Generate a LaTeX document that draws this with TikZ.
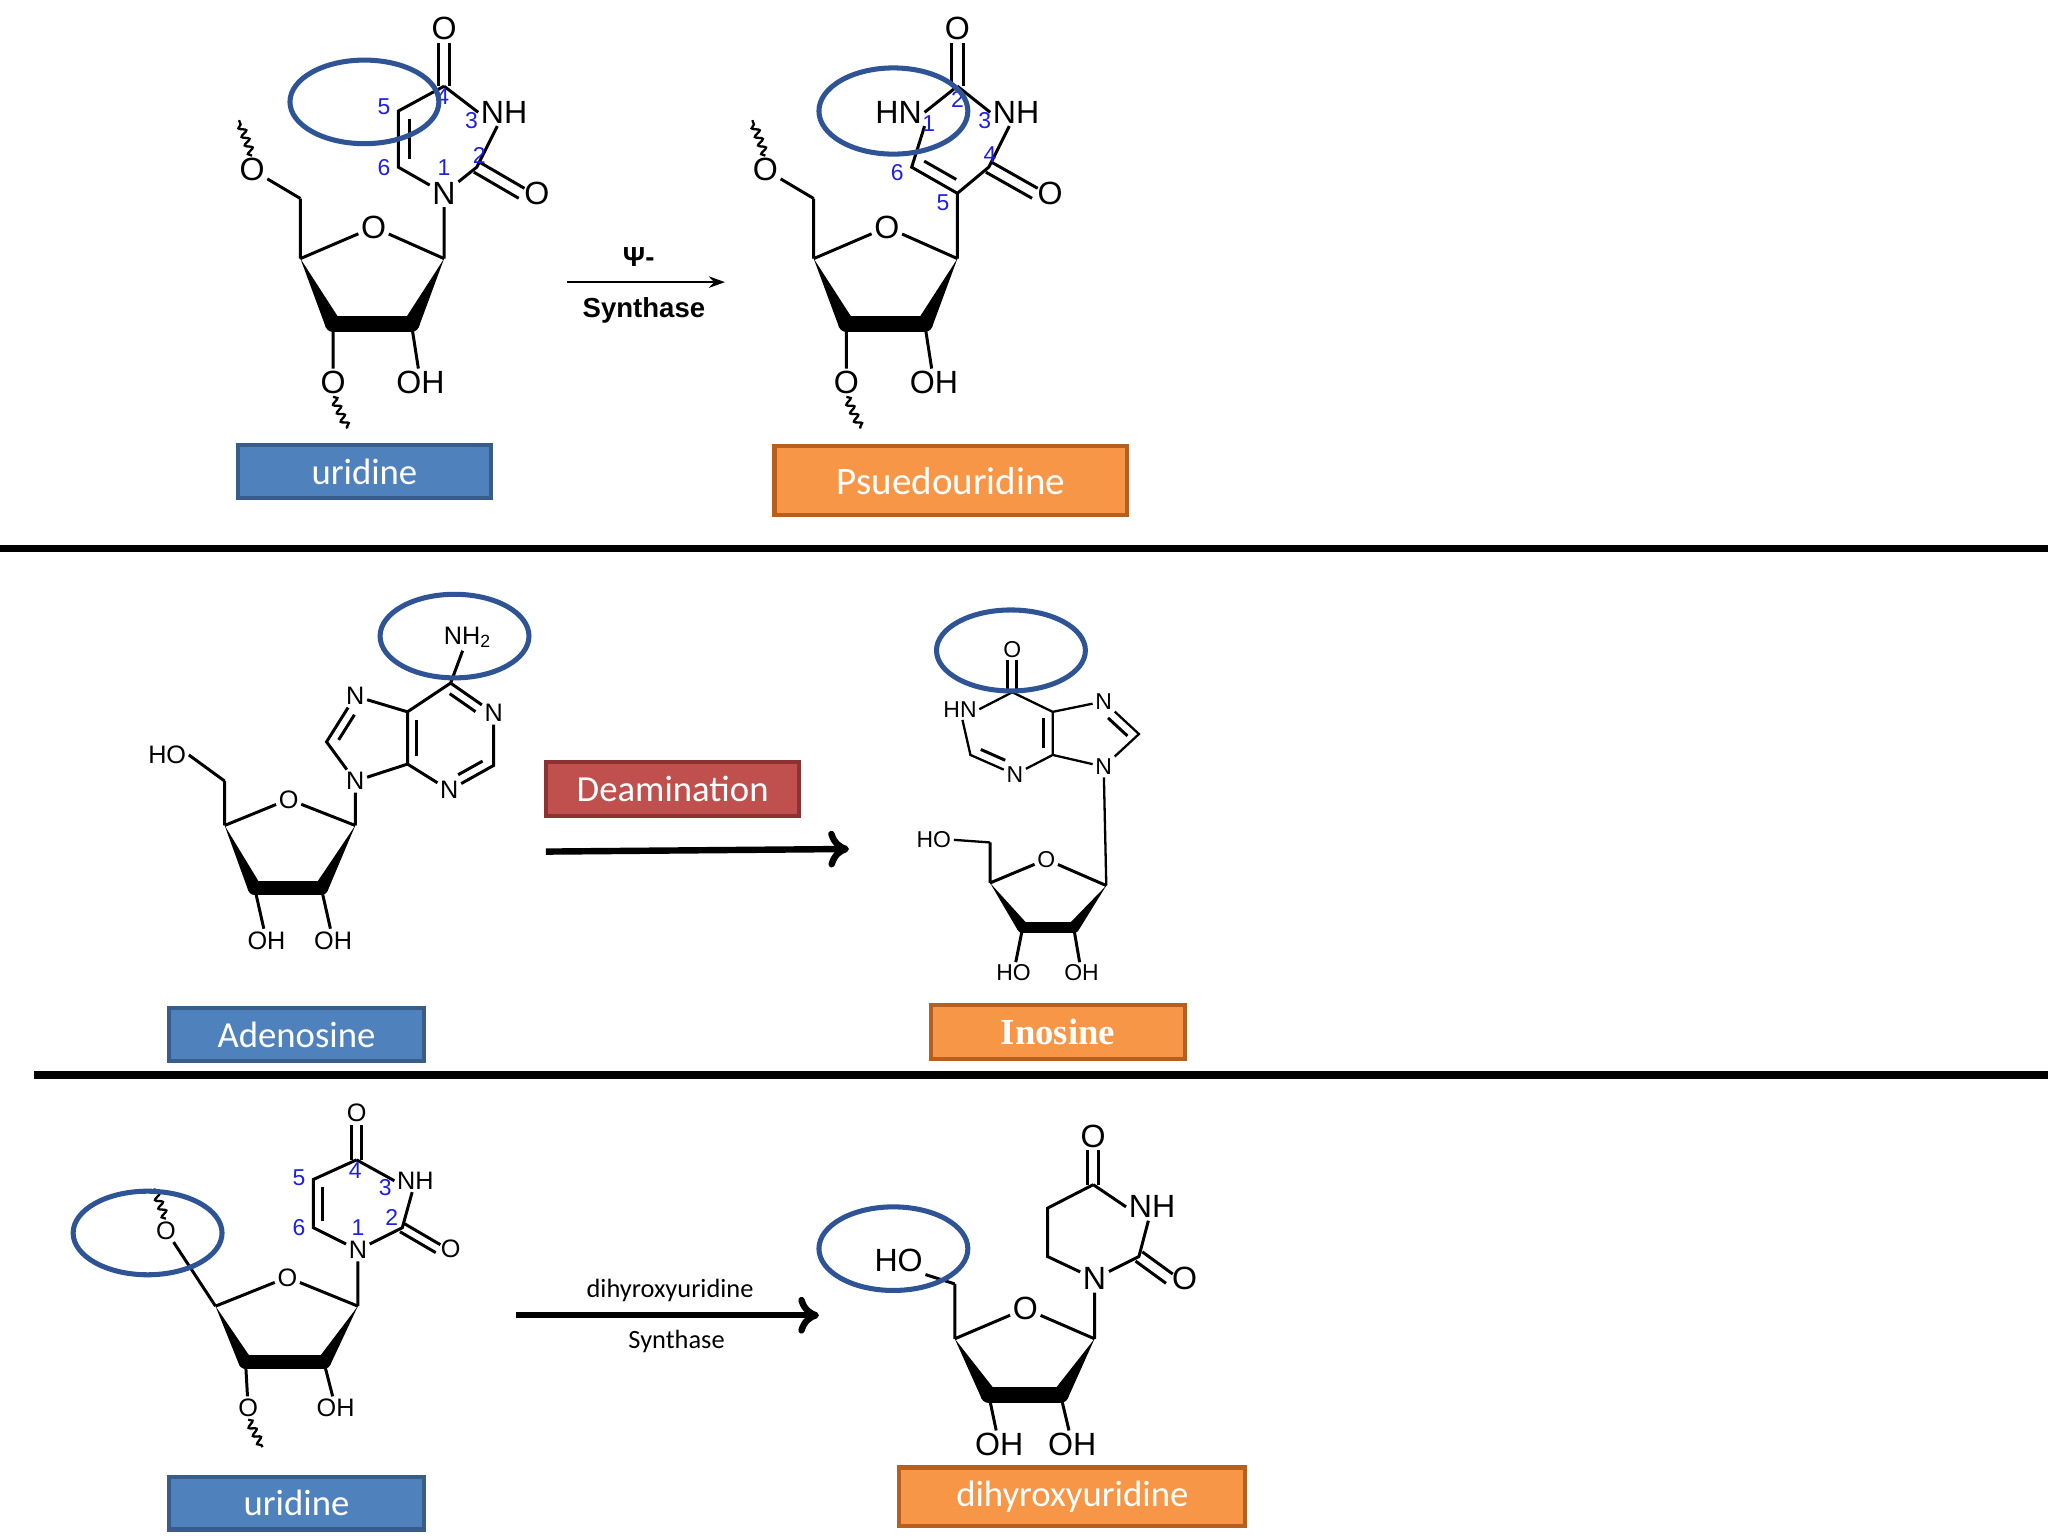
\documentclass[tikz,border=0pt]{standalone}
\usepackage{fontspec}
\setmainfont{Liberation Sans}
\newfontfamily\calfont{Carlito}
\newfontfamily\tmsfont{Liberation Serif}
\usetikzlibrary{calc,decorations.pathmorphing,arrows.meta}
\definecolor{ell}{RGB}{47,84,150}
\definecolor{bfill}{RGB}{79,129,189}
\definecolor{bdraw}{RGB}{56,93,138}
\definecolor{ofill}{RGB}{247,150,70}
\definecolor{odraw}{RGB}{182,95,30}
\definecolor{rfill}{RGB}{192,80,77}
\definecolor{rdraw}{RGB}{140,50,50}
\definecolor{num}{RGB}{30,30,230}
\tikzset{
 bond/.style={line width=1.3pt},
 atm/.style={inner sep=1pt,font=\fontsize{14}{14}\selectfont},
 sat/.style={inner sep=1pt,font=\fontsize{11}{11}\selectfont},
 nm/.style={text=num,inner sep=0pt,font=\fontsize{10}{10}\selectfont},
 ov/.style={draw=ell,line width=2.2pt},
 wavy/.style={line width=1pt,decorate,decoration={snake,amplitude=1.5pt,segment length=4pt}},
 lbl/.style={inner sep=0pt,text=white,font=\calfont\fontsize{16}{16}\selectfont,line width=1.8pt},
 blue box/.style={lbl,fill=bfill,draw=bdraw},
 orange box/.style={lbl,fill=ofill,draw=odraw},
 sep/.style={line width=3.2pt},
 bigarrow/.style={line width=2.8pt,-{To[length=9pt,width=16pt,line width=2.8pt]}}
}
\newcommand\dl[5]{\draw[bond] ($(#1)!#3!(#2)!#5!90:(#2)$) -- ($(#2)!#4!(#1)!#5!-90:(#1)$);}
\newcommand\wdg[3]{\fill ($(#1)$) -- ($(#2)!#3!90:(#1)$) -- ($(#2)!#3!-90:(#1)$) -- cycle;}
\newcommand\sugarbonds[2]{%
 \draw[bond] (#1C1)--(#1O4)--(#1C4) (#1C4)--(#1C5) (#1C2)--(#1b2) (#1C3)--(#1b3);
 \wdg{#1C4}{#1C3}{#2}\wdg{#1C1}{#1C2}{#2}
 \draw[line width=2*#2,line cap=round] (#1C3)--(#1C2);}
\begin{document}
\begin{tikzpicture}[x=0.02cm,y=-0.02cm]
\fill[white] (0,0) rectangle (1568,1176);
\useasboundingbox (0,0) rectangle (1568,1176);

%% ===== Panel 1: uridine =====
\node[atm] (uO4x) at (340,22) {O};
\coordinate (uR4) at (340,66);
\node[atm] (uN3) at (386,86) {NH};
\coordinate (uR2) at (365,128);
\node[atm] (uO2x) at (411,148) {O};
\node[atm] (uN1) at (340,148) {N};
\coordinate (uR6) at (305,128);
\coordinate (uR5) at (305,85);
\draw[bond] (uR4)--(uN3.west) (uN3)--(uR2)--(uN1)--(uR6)--(uR5)--(uR4);
\dl{uR5}{uR6}{0.15}{0.15}{5pt}
\dl{uR4}{uO4x.south}{0}{0}{2.5pt}\dl{uR4}{uO4x.south}{0}{0}{-2.5pt}
\dl{uR2}{uO2x.west}{0}{0}{2.5pt}\dl{uR2}{uO2x.west}{0}{0}{-2.5pt}
\coordinate (uC1) at (340,198); \node[atm] (uO4) at (286,174) {O};
\coordinate (uC4) at (230,198); \coordinate (uC3) at (255,248); \coordinate (uC2) at (315,248);
\coordinate (uC5) at (230,152); \node[atm] (uO5) at (193,130) {O};
\node[atm] (ub3) at (255,293) {O}; \node[atm] (ub2) at (322,293) {OH};
\draw[bond] (uN1)--(uC1) (uC5)--(uO5);
\sugarbonds{u}{3.5pt}
\draw[wavy] (uO5.north)--(183,92);
\draw[wavy] (ub3.south)--(266,328);
\node[nm] at (294,82) {5}; \node[nm] at (339,74) {4}; \node[nm] at (361,92) {3};
\node[nm] at (367,119) {2}; \node[nm] at (340,128) {1}; \node[nm] at (294,128) {6};
\draw[ov] (279,78) ellipse (57 and 32);
\node[blue box,minimum width=194*0.02cm,minimum height=40*0.02cm] (lb1) at (279,361) {uridine};

%% ===== Panel 1: pseudouridine =====
\node[atm] (pO2x) at (733,22) {O};
\coordinate (pR2) at (733,66);
\node[atm] (pN1) at (688,86) {HN};
\node[atm] (pN3) at (778,86) {NH};
\coordinate (pR4) at (757,128);
\node[atm] (pO4x) at (804,148) {O};
\coordinate (pR5) at (733,148);
\coordinate (pR6) at (698,128);
\draw[bond] (pR2)--(pN3.west) (pN3)--(pR4)--(pR5)--(pR6)--(pN1.south east) (pN1.east)--(pR2);
\dl{pR5}{pR6}{0.15}{0.15}{-5pt}
\dl{pR2}{pO2x.south}{0}{0}{2.5pt}\dl{pR2}{pO2x.south}{0}{0}{-2.5pt}
\dl{pR4}{pO4x.west}{0}{0}{2.5pt}\dl{pR4}{pO4x.west}{0}{0}{-2.5pt}
\coordinate (pC1) at (733,198); \node[atm] (pO4) at (679,174) {O};
\coordinate (pC4) at (623,198); \coordinate (pC3) at (648,248); \coordinate (pC2) at (708,248);
\coordinate (pC5) at (623,152); \node[atm] (pO5) at (586,130) {O};
\node[atm] (pb3) at (648,293) {O}; \node[atm] (pb2) at (715,293) {OH};
\draw[bond] (pR5)--(pC1) (pC5)--(pO5);
\sugarbonds{p}{3.5pt}
\draw[wavy] (pO5.north)--(576,92);
\draw[wavy] (pb3.south)--(659,328);
\node[nm] at (711,95) {1}; \node[nm] at (733,76) {2}; \node[nm] at (754,92) {3};
\node[nm] at (758,118) {4}; \node[nm] at (722,155) {5}; \node[nm] at (687,132) {6};
\draw[ov] (684,85) ellipse (57 and 33);
\node[orange box,font=\calfont\fontsize{17}{17}\selectfont,minimum width=270*0.02cm,minimum height=53*0.02cm] (lb2) at (728,368) {Psuedouridine};

\coordinate (a1s) at (434,216); \coordinate (a1e) at (555,216);
\draw[line width=1pt,-{Stealth[length=7pt,width=5pt]}] (a1s)--(a1e);
\node[font=\bfseries\fontsize{12}{12}\selectfont] at (489,197) {Ψ-};
\node[font=\bfseries\fontsize{12}{12}\selectfont] at (493,238) {Synthase};

\coordinate (s1a) at (0,420); \coordinate (s1b) at (1568,420);
\draw[sep] (s1a)--(s1b);

%% ===== Panel 2: adenosine =====
\node[sat] (aNH2) at (358,488) {NH\textsubscript{2}};
\coordinate (aR6) at (345,523);
\node[sat] (aN1) at (378,546) {N};
\coordinate (aR2) at (378,586);
\node[sat] (aN3) at (344,605) {N};
\coordinate (aR4) at (312,585);
\coordinate (aR5) at (312,545);
\node[sat] (aN7) at (272,533) {N};
\coordinate (aR8) at (250,568);
\node[sat] (aN9) at (272,598) {N};
\draw[bond] (aR6)--(aN1)--(aR2)--(aN3)--(aR4)--(aR5)--(aR6) (aR5)--(aN7)--(aR8)--(aN9)--(aR4) (aR6)--(aNH2);
\dl{aR6}{aN1}{0.1}{0.3}{-4pt}
\dl{aR2}{aN3}{0.15}{0.3}{-4pt}
\dl{aR4}{aR5}{0.15}{0.15}{-4pt}
\dl{aN7}{aR8}{0.3}{0.15}{4pt}
\coordinate (aC1) at (272,632); \node[sat] (aO4) at (221,612) {O};
\coordinate (aC4) at (172,632); \coordinate (aC3) at (195,680); \coordinate (aC2) at (246,680);
\coordinate (aC5) at (172,598); \node[sat] (aO5) at (128,578) {HO};
\node[sat] (ab3) at (204,720) {OH}; \node[sat] (ab2) at (255,720) {OH};
\draw[bond] (aN9)--(aC1) (aC5)--(aO5.east);
\sugarbonds{a}{3pt}
\draw[ov] (348,487) ellipse (57 and 32);
\node[blue box,minimum width=195*0.02cm,minimum height=40*0.02cm] (lb3) at (227,792) {Adenosine};

\node[lbl,fill=rfill,draw=rdraw,minimum width=194*0.02cm,minimum height=41*0.02cm] (deam) at (515,604) {Deamination};
\coordinate (a2s) at (418,652); \coordinate (a2e) at (650,650);
\draw[bigarrow] (a2s)--(a2e);

%% ===== Panel 2: inosine =====
\node[sat,font=\fontsize{10}{10}\selectfont] (iO) at (775,497) {O};
\coordinate (iR6) at (775,530);
\node[sat,font=\fontsize{10}{10}\selectfont] (iN1) at (735,543) {HN};
\coordinate (iR2) at (743,578);
\node[sat,font=\fontsize{10}{10}\selectfont] (iN3) at (777,593) {N};
\coordinate (iR4) at (806,578);
\coordinate (iR5) at (806,545);
\node[sat,font=\fontsize{10}{10}\selectfont] (iN7) at (845,537) {N};
\coordinate (iR8) at (872,562);
\node[sat,font=\fontsize{10}{10}\selectfont] (iN9) at (845,587) {N};
\draw[bond,line width=1pt] (iR6)--(iN1.east) (iN1)--(iR2)--(iN3)--(iR4)--(iR5)--(iR6) (iR5)--(iN7)--(iR8)--(iN9)--(iR4);
\dl{iR6}{iO.south}{0}{0}{2pt}\dl{iR6}{iO.south}{0}{0}{-2pt}
\dl{iR2}{iN3}{0.15}{0.3}{4pt}
\dl{iR4}{iR5}{0.15}{0.15}{4pt}
\dl{iN7}{iR8}{0.3}{0.15}{-4pt}
\coordinate (iC1) at (847,678); \node[sat,font=\fontsize{10}{10}\selectfont] (iO4) at (801,658) {O};
\coordinate (iC4) at (758,676); \coordinate (iC3) at (783,710); \coordinate (iC2) at (822,710);
\coordinate (iC5) at (758,645); \node[sat,font=\fontsize{10}{10}\selectfont] (iO5) at (715,643) {HO};
\node[sat,font=\fontsize{10}{10}\selectfont] (ib3) at (776,745) {HO}; \node[sat,font=\fontsize{10}{10}\selectfont] (ib2) at (828,745) {OH};
\draw[bond,line width=1pt] (iN9)--(iC1) (iC5)--(iO5.east);
\sugarbonds{i}{2.5pt}
\draw[ov] (774,498) ellipse (57 and 31);
\node[orange box,font=\tmsfont\bfseries\fontsize{16}{16}\selectfont,minimum width=194*0.02cm,minimum height=41*0.02cm] (lb4) at (810,790) {Inosine};

\coordinate (s2a) at (26,823); \coordinate (s2b) at (1568,823);
\draw[sep] (s2a)--(s2b);

%% ===== Panel 3: uridine =====
\node[sat] (vO4x) at (273,852) {O};
\coordinate (vR4) at (273,888);
\node[sat] (vN3) at (318,904) {NH};
\coordinate (vR2) at (308,940);
\node[sat] (vO2x) at (345,956) {O};
\node[sat] (vN1) at (274,957) {N};
\coordinate (vR6) at (240,940);
\coordinate (vR5) at (240,903);
\draw[bond] (vR4)--(vN3.west) (vN3)--(vR2)--(vN1)--(vR6)--(vR5)--(vR4);
\dl{vR5}{vR6}{0.15}{0.15}{4pt}
\dl{vR4}{vO4x.south}{0}{0}{2pt}\dl{vR4}{vO4x.south}{0}{0}{-2pt}
\dl{vR2}{vO2x.west}{0}{0}{2pt}\dl{vR2}{vO2x.west}{0}{0}{-2pt}
\coordinate (vC1) at (274,1000); \node[sat] (vO4) at (220,978) {O};
\coordinate (vC4) at (165,1000); \coordinate (vC3) at (188,1043); \coordinate (vC2) at (248,1043);
\node[sat] (vO5) at (127,942) {O};
\node[sat] (vb3) at (190,1078) {O}; \node[sat] (vb2) at (257,1078) {OH};
\draw[bond] (vN1)--(vC1) (vC4)--(vO5);
\draw[bond] (vC1)--(vO4)--(vC4) (vC2)--(vb2) (vC3)--(vb3);
\wdg{vC4}{vC3}{3pt}\wdg{vC1}{vC2}{3pt}
\draw[line width=6pt,line cap=round] (vC3)--(vC2);
\draw[wavy] (vO5.north)--(118,910);
\draw[wavy] (vb3.south)--(201,1108);
\node[nm] at (229,902) {5}; \node[nm] at (272,896) {4}; \node[nm] at (295,909) {3};
\node[nm] at (300,932) {2}; \node[nm] at (274,940) {1}; \node[nm] at (229,940) {6};
\draw[ov] (113,944) ellipse (57 and 32);
\node[blue box,minimum width=195*0.02cm,minimum height=40*0.02cm] (lb5) at (227,1151) {uridine};

\coordinate (a3s) at (395,1007); \coordinate (a3e) at (627,1007);
\draw[bigarrow] (a3s)--(a3e);
\node[font=\calfont\fontsize{11.5}{11.5}\selectfont] at (513,988) {dihyroxyuridine};
\node[font=\calfont\fontsize{11.5}{11.5}\selectfont] at (518,1027) {Synthase};

%% ===== Panel 3: dihydrouridine =====
\node[atm] (dO4x) at (837,870) {O};
\coordinate (dR4) at (837,907);
\node[atm] (dN3) at (882,924) {NH};
\coordinate (dR2) at (872,962);
\node[atm] (dO2x) at (907,979) {O};
\node[atm] (dN1) at (838,979) {N};
\coordinate (dR6) at (802,962);
\coordinate (dR5) at (802,925);
\draw[bond] (dR4)--(dN3.west) (dN3)--(dR2)--(dN1)--(dR6)--(dR5)--(dR4);
\dl{dR4}{dO4x.south}{0}{0}{2.5pt}\dl{dR4}{dO4x.south}{0}{0}{-2.5pt}
\dl{dR2}{dO2x.west}{0}{0}{2.5pt}\dl{dR2}{dO2x.west}{0}{0}{-2.5pt}
\coordinate (dC1) at (838,1025); \node[atm] (dO4) at (785,1002) {O};
\coordinate (dC4) at (731,1025); \coordinate (dC3) at (757,1068); \coordinate (dC2) at (812,1068);
\coordinate (dC5) at (731,983); \node[atm] (dO5) at (688,965) {HO};
\node[atm] (db3) at (765,1106) {OH}; \node[atm] (db2) at (821,1106) {OH};
\draw[bond] (dN1)--(dC1) (dC5)--(dO5.south east);
\sugarbonds{d}{3.5pt}
\draw[ov] (684,956) ellipse (57 and 32);
\node[orange box,minimum width=265*0.02cm,minimum height=45*0.02cm] (lb6) at (821,1146) {dihyroxyuridine};
\end{tikzpicture}
\end{document}
